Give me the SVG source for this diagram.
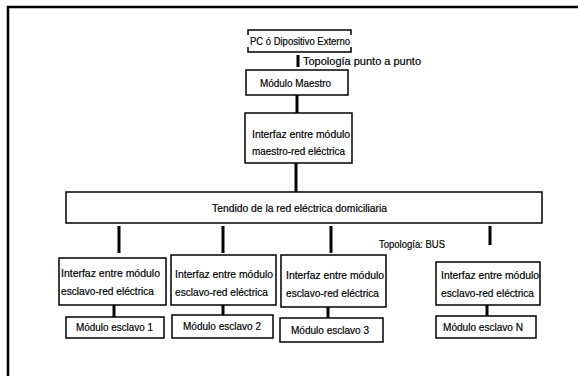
<svg xmlns="http://www.w3.org/2000/svg" width="578" height="376" viewBox="0 0 578 376">
<style>
.bg{fill:#fff}
.frame{fill:none;stroke:#000;stroke-width:2.5}
.box{fill:#fff;stroke:#000;stroke-width:1.5}
.br{fill:none;stroke:#000;stroke-width:1.5}
.con{stroke:#000;stroke-width:3;fill:none}
text{font-family:"Liberation Sans",Arial,sans-serif;font-size:11px;fill:#000;stroke:#000;stroke-width:0.2}
</style>
<rect class="bg" x="0" y="0" width="578" height="376"/>
<path class="frame" d="M8,376 V7 H578"/>
<g id="connectors">
<line class="con" x1="298" y1="55" x2="298" y2="67"/>
<line class="con" x1="297" y1="95" x2="297" y2="113"/>
<line class="con" x1="296" y1="163" x2="296" y2="192"/>
<line class="con" x1="119" y1="226" x2="119" y2="253"/>
<line class="con" x1="223" y1="226" x2="223" y2="253"/>
<line class="con" x1="331" y1="226" x2="331" y2="253"/>
<line class="con" x1="490" y1="226" x2="490" y2="245"/>
<line class="con" x1="114" y1="305" x2="114" y2="317"/>
<line class="con" x1="223" y1="305" x2="223" y2="315"/>
<line class="con" x1="328" y1="307" x2="328" y2="318"/>
<line class="con" x1="487" y1="305" x2="487" y2="316"/>
<text x="303" y="65" textLength="118" lengthAdjust="spacingAndGlyphs">Topología punto a punto</text>
<text x="379" y="248" textLength="66" lengthAdjust="spacingAndGlyphs">Topología: BUS</text>
</g>
<g id="pc">
<path class="br" d="M248,35 V30 H351 V35 M248,47 V52 H351 V47"/>
<text x="250" y="45" textLength="100" lengthAdjust="spacingAndGlyphs">PC ó Dipositivo Externo</text>
</g>
<g id="maestro">
<rect class="box" x="246" y="70" width="102" height="25"/>
<text x="260" y="87" textLength="71" lengthAdjust="spacingAndGlyphs">Módulo Maestro</text>
</g>
<g id="interfaz-maestro">
<rect class="box" x="245" y="113" width="107" height="50"/>
<text x="252" y="138" textLength="98" lengthAdjust="spacingAndGlyphs">Interfaz entre módulo</text>
<text x="252" y="155" textLength="93" lengthAdjust="spacingAndGlyphs">maestro-red eléctrica</text>
</g>
<g id="tendido">
<rect class="box" x="66" y="192" width="476" height="31"/>
<text x="212" y="212" textLength="175" lengthAdjust="spacingAndGlyphs">Tendido de la red eléctrica domiciliaria</text>
</g>
<g id="interfaz-1">
<rect class="box" x="59" y="258" width="107" height="47"/>
<text x="61" y="277" textLength="99" lengthAdjust="spacingAndGlyphs">Interfaz entre módulo</text>
<text x="61" y="295" textLength="93" lengthAdjust="spacingAndGlyphs">esclavo-red eléctrica</text>
</g>
<g id="interfaz-2">
<rect class="box" x="171" y="255" width="105" height="50"/>
<text x="175" y="278" textLength="98" lengthAdjust="spacingAndGlyphs">Interfaz entre módulo</text>
<text x="175" y="296" textLength="93" lengthAdjust="spacingAndGlyphs">esclavo-red eléctrica</text>
</g>
<g id="interfaz-3">
<rect class="box" x="281" y="255" width="105" height="52"/>
<text x="286" y="279" textLength="98" lengthAdjust="spacingAndGlyphs">Interfaz entre módulo</text>
<text x="286" y="297" textLength="93" lengthAdjust="spacingAndGlyphs">esclavo-red eléctrica</text>
</g>
<g id="interfaz-n">
<rect class="box" x="436" y="262" width="104" height="43"/>
<text x="441" y="279" textLength="98" lengthAdjust="spacingAndGlyphs">Interfaz entre módulo</text>
<text x="441" y="297" textLength="93" lengthAdjust="spacingAndGlyphs">esclavo-red eléctrica</text>
</g>
<g id="esclavo-1">
<rect class="box" x="66" y="317" width="98" height="21"/>
<text x="76" y="331" textLength="77" lengthAdjust="spacingAndGlyphs">Módulo esclavo 1</text>
</g>
<g id="esclavo-2">
<rect class="box" x="172" y="315" width="101" height="23"/>
<text x="183" y="330" textLength="78" lengthAdjust="spacingAndGlyphs">Módulo esclavo 2</text>
</g>
<g id="esclavo-3">
<rect class="box" x="280" y="318" width="103" height="24"/>
<text x="291" y="334" textLength="78" lengthAdjust="spacingAndGlyphs">Módulo esclavo 3</text>
</g>
<g id="esclavo-n">
<rect class="box" x="436" y="316" width="100" height="22"/>
<text x="443" y="331" textLength="80" lengthAdjust="spacingAndGlyphs">Módulo esclavo N</text>
</g>
</svg>
